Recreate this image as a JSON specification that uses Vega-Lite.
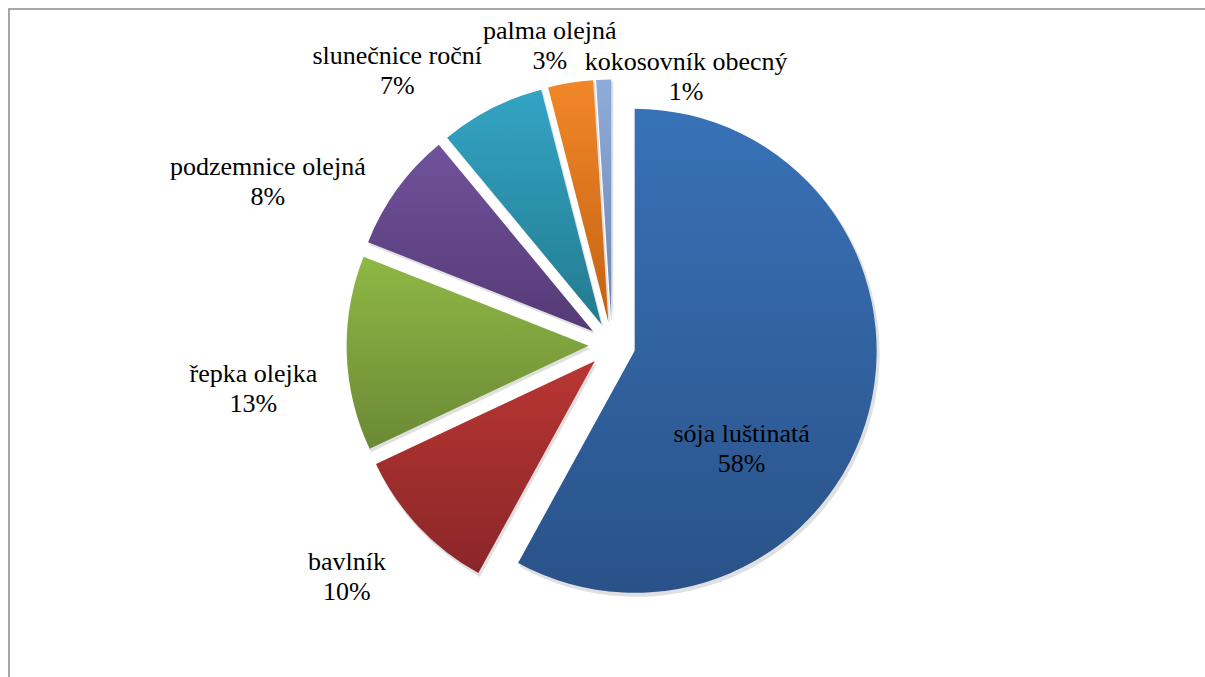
{
  "$schema": "https://vega.github.io/schema/vega-lite/v6.json",
  "width": 1206,
  "height": 678,
  "padding": {"left": 9, "top": 9, "right": -10, "bottom": -10},
  "autosize": {"type": "none"},
  "background": "white",
  "config": {
    "view": {"stroke": "#8a8a8a", "strokeWidth": 1.5},
    "text": {"font": "Times New Roman, Liberation Serif, DejaVu Serif, serif", "fontSize": 26, "lineHeight": 30, "color": "#000000", "align": "center", "baseline": "middle", "lineBreak": "\n", "dy": -15}
  },
  "data": {"values": [
    {"name": "sója luštinatá", "pct": 58},
    {"name": "bavlník", "pct": 10},
    {"name": "řepka olejka", "pct": 13},
    {"name": "podzemnice olejná", "pct": 8},
    {"name": "slunečnice roční", "pct": 7},
    {"name": "palma olejná", "pct": 3},
    {"name": "kokosovník obecný", "pct": 1}
  ]},
  "transform": [
    {"window": [{"op": "sum", "field": "pct", "as": "s1"}], "frame": [null, 0]},
    {"calculate": "datum.s1 - datum.pct", "as": "s0"},
    {"calculate": "datum.s0 + datum.pct / 2", "as": "mid"},
    {"calculate": "23.4 * sin(datum.mid / 100 * 2 * PI)", "as": "ex"},
    {"calculate": "23.4 * cos(datum.mid / 100 * 2 * PI)", "as": "ey"},
    {"calculate": "datum.name + '\\n' + datum.pct + '%'", "as": "label"}
  ],
  "encoding": {
    "x": {"field": "ex", "type": "quantitative", "scale": {"domain": [-603, 603]}, "axis": null},
    "y": {"field": "ey", "type": "quantitative", "scale": {"domain": [-342, 336]}, "axis": null}
  },
  "layer": [
    {
      "mark": {"type": "arc", "outerRadius": 243, "xOffset": 2, "yOffset": 3, "color": "#000000", "opacity": 0.12},
      "encoding": {
        "theta": {"field": "s0", "type": "quantitative", "scale": {"domain": [0, 100]}, "stack": null},
        "theta2": {"field": "s1"}
      }
    },
    {
      "mark": {"type": "arc", "outerRadius": 242},
      "encoding": {
        "theta": {"field": "s0", "type": "quantitative", "scale": {"domain": [0, 100]}, "stack": null},
        "theta2": {"field": "s1"},
        "color": {
          "condition": [
            {"test": "datum.name === 'sója luštinatá'", "value": {"gradient": "linear", "x1": 0, "y1": 0, "x2": 0, "y2": 1, "stops": [{"offset": 0, "color": "#3872b7"}, {"offset": 1, "color": "#2a5289"}]}},
            {"test": "datum.name === 'bavlník'", "value": {"gradient": "linear", "x1": 0, "y1": 0, "x2": 0, "y2": 1, "stops": [{"offset": 0, "color": "#b93633"}, {"offset": 1, "color": "#8a2628"}]}},
            {"test": "datum.name === 'řepka olejka'", "value": {"gradient": "linear", "x1": 0, "y1": 0, "x2": 0, "y2": 1, "stops": [{"offset": 0, "color": "#8fb845"}, {"offset": 1, "color": "#6b8935"}]}},
            {"test": "datum.name === 'podzemnice olejná'", "value": {"gradient": "linear", "x1": 0, "y1": 0, "x2": 0, "y2": 1, "stops": [{"offset": 0, "color": "#70529b"}, {"offset": 1, "color": "#553a76"}]}},
            {"test": "datum.name === 'slunečnice roční'", "value": {"gradient": "linear", "x1": 0, "y1": 0, "x2": 0, "y2": 1, "stops": [{"offset": 0, "color": "#33a4c4"}, {"offset": 1, "color": "#237b90"}]}},
            {"test": "datum.name === 'palma olejná'", "value": {"gradient": "linear", "x1": 0, "y1": 0, "x2": 0, "y2": 1, "stops": [{"offset": 0, "color": "#f18728"}, {"offset": 1, "color": "#c46313"}]}},
            {"test": "datum.name === 'kokosovník obecný'", "value": {"gradient": "linear", "x1": 0, "y1": 0, "x2": 0, "y2": 1, "stops": [{"offset": 0, "color": "#8fabd9"}, {"offset": 1, "color": "#6c86b2"}]}}
          ],
          "value": "#888888"
        }
      }
    },
    {
      "transform": [{"filter": "datum.name === 'sója luštinatá'"}],
      "mark": {"type": "text", "radius": 145, "thetaOffset": 0.49},
      "encoding": {"theta": {"field": "mid", "type": "quantitative", "scale": {"domain": [0, 100]}, "stack": null}, "text": {"field": "label"}}
    },
    {
      "transform": [{"filter": "datum.name === 'bavlník'"}],
      "mark": {"type": "text", "radius": 329, "thetaOffset": 0.037},
      "encoding": {"theta": {"field": "mid", "type": "quantitative", "scale": {"domain": [0, 100]}, "stack": null}, "text": {"field": "label"}}
    },
    {
      "transform": [{"filter": "datum.name === 'řepka olejka'"}],
      "mark": {"type": "text", "radius": 338, "thetaOffset": -0.096},
      "encoding": {"theta": {"field": "mid", "type": "quantitative", "scale": {"domain": [0, 100]}, "stack": null}, "text": {"field": "label"}}
    },
    {
      "transform": [{"filter": "datum.name === 'podzemnice olejná'"}],
      "mark": {"type": "text", "radius": 358, "thetaOffset": -0.197},
      "encoding": {"theta": {"field": "mid", "type": "quantitative", "scale": {"domain": [0, 100]}, "stack": null}, "text": {"field": "label"}}
    },
    {
      "transform": [{"filter": "datum.name === 'slunečnice roční'"}],
      "mark": {"type": "text", "radius": 325, "thetaOffset": -0.208},
      "encoding": {"theta": {"field": "mid", "type": "quantitative", "scale": {"domain": [0, 100]}, "stack": null}, "text": {"field": "label"}}
    },
    {
      "transform": [{"filter": "datum.name === 'palma olejná'"}],
      "mark": {"type": "text", "radius": 282, "thetaOffset": -0.052},
      "encoding": {"theta": {"field": "mid", "type": "quantitative", "scale": {"domain": [0, 100]}, "stack": null}, "text": {"field": "label"}}
    },
    {
      "transform": [{"filter": "datum.name === 'kokosovník obecný'"}],
      "mark": {"type": "text", "radius": 256, "thetaOffset": 0.328},
      "encoding": {"theta": {"field": "mid", "type": "quantitative", "scale": {"domain": [0, 100]}, "stack": null}, "text": {"field": "label"}}
    }
  ]
}
